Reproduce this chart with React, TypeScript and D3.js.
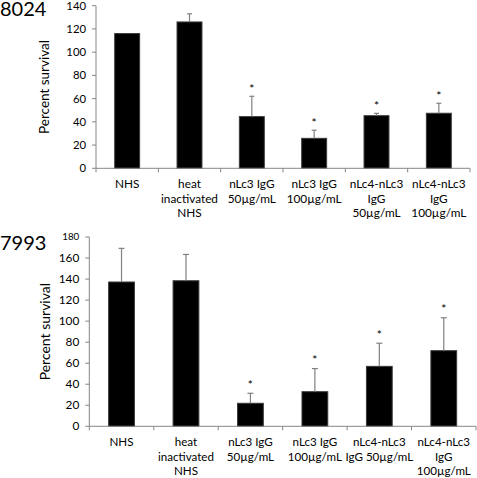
import React from "react";
import * as d3 from "d3";

const catsTop: string[][] = [
  ["NHS"],
  ["heat", "inactivated", "NHS"],
  ["nLc3 IgG", "50µg/mL"],
  ["nLc3 IgG", "100µg/mL"],
  ["nLc4-nLc3", "IgG", "50µg/mL"],
  ["nLc4-nLc3", "IgG", "100µg/mL"],
];
const catsBottom: string[][] = [
  ["NHS"],
  ["heat", "inactivated", "NHS"],
  ["nLc3 IgG", "50µg/mL"],
  ["nLc3 IgG", "100µg/mL"],
  ["nLc4-nLc3", "IgG 50µg/mL"],
  ["nLc4-nLc3", "IgG", "100µg/mL"],
];
const valuesTop = [116, 126, 44.5, 25.8, 45.3, 47.4];
const errorsTop = [0, 7, 17.5, 7, 2, 8.6];
const starsTop = [false, false, true, true, true, true];
const ticksTop = [0, 20, 40, 60, 80, 100, 120, 140];

const valuesBottom = [137.2, 138.4, 21.9, 32.9, 57, 71.9];
const errorsBottom = [32, 25, 9.5, 22, 22, 31.3];
const starsBottom = [false, false, true, true, true, true];
const ticksBottom = [0, 20, 40, 60, 80, 100, 120, 140, 160, 180];

const FONT = "Lato, 'Open Sans', sans-serif";

type PanelProps = {
  title: string;
  titleY: number;
  titleSize: number;
  cats: string[][];
  values: number[];
  errors: number[];
  stars: boolean[];
  ticks: number[];
  yMax: number;
  x0: number;
  x1: number;
  yBase: number;
  yTopPx: number;
  tickFont: number;
  catFont: number;
  catY: number;
  labelFont: number;
  labelX: number;
  capW: number;
  starGap: number;
  smallTop?: boolean;
};

function Panel(p: PanelProps) {
  const x = d3.scaleBand<number>().domain(d3.range(p.cats.length)).range([p.x0, p.x1]).paddingInner(0).paddingOuter(0);
  const y = d3.scaleLinear().domain([0, p.yMax]).range([p.yBase, p.yTopPx]);
  const bw = x.bandwidth() * 0.4;
  const axisColor = "#868686";
  return (
    <g>
      <text x={0} y={p.titleY} fontSize={p.titleSize} fontFamily={FONT} fill="#000">{p.title}</text>
      <line x1={p.x0} x2={p.x0} y1={y(p.yMax)} y2={p.yBase} stroke={axisColor} strokeWidth={1} />
      {p.ticks.map((t, i) => (
        <g key={t}>
          <line x1={p.x0 - 4} x2={p.x0} y1={y(t)} y2={y(t)} stroke={axisColor} />
          <text
            x={p.x0 - 10}
            y={y(t)}
            dy="0.35em"
            textAnchor="end"
            fontSize={p.smallTop && i === p.ticks.length - 1 ? p.tickFont - 2 : p.tickFont}
            fontFamily={FONT}
            fill="#000"
          >
            {t}
          </text>
        </g>
      ))}
      <text
        transform={`translate(${p.labelX},${(p.yBase + y(p.yMax)) / 2}) rotate(-90)`}
        textAnchor="middle"
        dy="0.35em"
        fontSize={p.labelFont}
        fontFamily={FONT}
        fill="#000"
      >
        Percent survival
      </text>
      {p.values.map((v, i) => {
        const cx = (x(i) as number) + x.bandwidth() / 2;
        const top = y(v);
        const eTop = y(v + p.errors[i]);
        return (
          <g key={i}>
            <rect x={cx - bw / 2} y={top} width={bw} height={p.yBase - top} fill="#000" stroke="#3a3a3a" strokeWidth={1} />
            {p.errors[i] > 0 && (
              <g stroke="#808080" strokeWidth={1.2}>
                <line x1={cx} x2={cx} y1={top} y2={eTop} />
                <line x1={cx - p.capW / 2} x2={cx + p.capW / 2} y1={eTop} y2={eTop} />
              </g>
            )}
            {p.stars[i] && (
              <text x={cx} y={eTop - p.starGap} textAnchor="middle" fontSize={12} fontFamily={FONT} fill="#000">*</text>
            )}
          </g>
        );
      })}
      <line x1={p.x0} x2={p.x1} y1={p.yBase} y2={p.yBase} stroke={axisColor} />
      {d3.range(p.cats.length + 1).map((i) => {
        const xx = p.x0 + i * x.bandwidth();
        return <line key={i} x1={xx} x2={xx} y1={p.yBase} y2={p.yBase + 4} stroke={axisColor} />;
      })}
      {p.cats.map((lines, i) => {
        const cx = (x(i) as number) + x.bandwidth() / 2;
        return (
          <text key={i} textAnchor="middle" fontSize={p.catFont} fontFamily={FONT} fill="#000">
            {lines.map((l, j) => (
              <tspan key={j} x={cx} y={p.catY + j * 14.7}>{l}</tspan>
            ))}
          </text>
        );
      })}
    </g>
  );
}

export default function App() {
  return (
    <svg width={477} height={478} style={{ position: "absolute", left: 0, top: 0, background: "#fff" }}>
      <Panel
        title="8024"
        titleY={16}
        titleSize={20}
        cats={catsTop}
        values={valuesTop}
        errors={errorsTop}
        stars={starsTop}
        ticks={ticksTop}
        yMax={140}
        x0={96}
        x1={470}
        yBase={168.3}
        yTopPx={5.7}
        tickFont={11.3}
        catFont={11.8}
        catY={188}
        labelFont={13.5}
        labelX={44}
        capW={5}
        starGap={3.5}
      />
      <Panel
        title="7993"
        titleY={250}
        titleSize={20}
        cats={catsBottom}
        values={valuesBottom}
        errors={errorsBottom}
        stars={starsBottom}
        ticks={ticksBottom}
        yMax={180}
        x0={89.3}
        x1={476}
        yBase={426.3}
        yTopPx={237}
        tickFont={11.8}
        catFont={11.6}
        catY={446}
        labelFont={14}
        labelX={45}
        capW={6}
        starGap={4.5}
        smallTop={true}
      />
    </svg>
  );
}
